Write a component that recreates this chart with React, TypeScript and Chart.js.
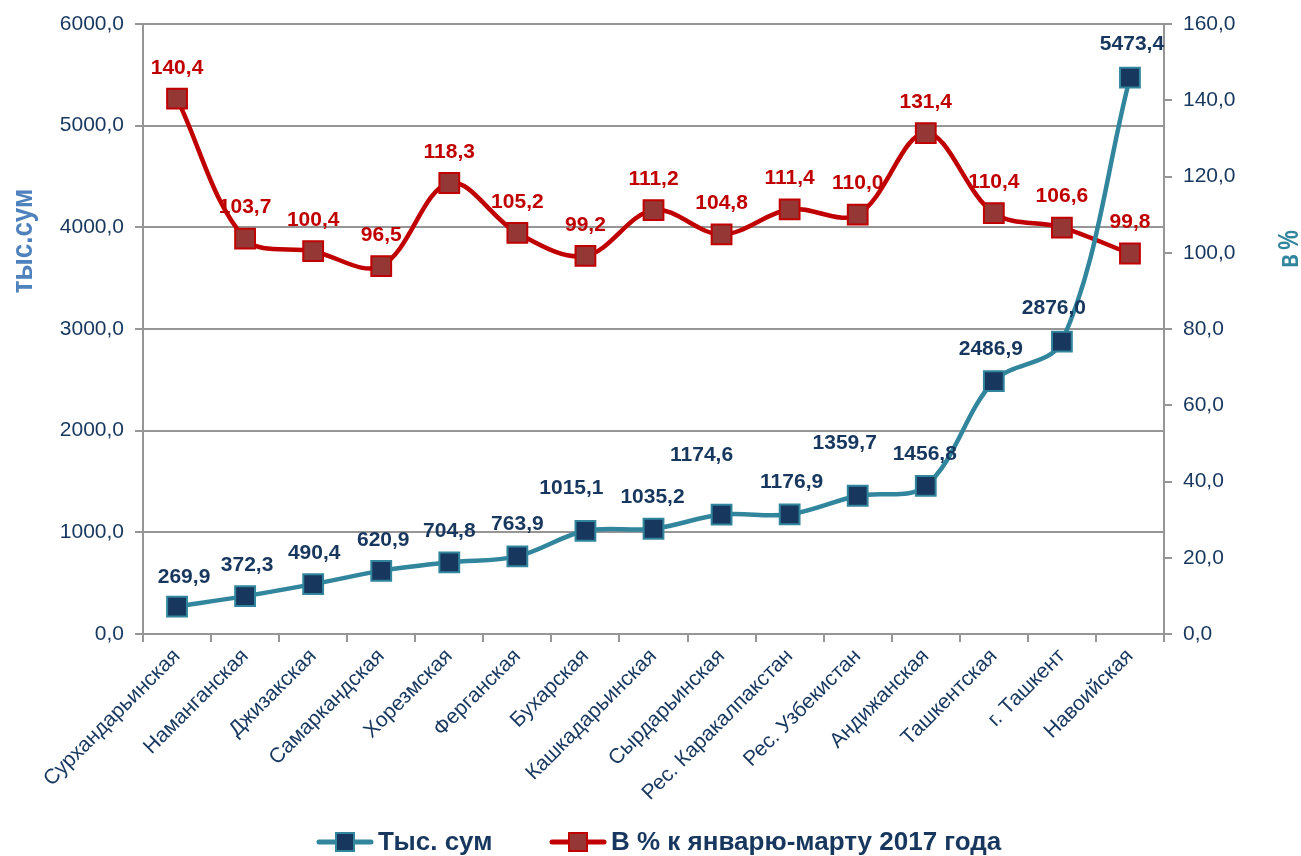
import React, { useEffect, useRef } from "react";
import { Chart, registerables } from "chart.js";

Chart.register(...registerables);

const categories = [
  "Сурхандарьинская",
  "Наманганская",
  "Джизакская",
  "Самаркандская",
  "Хорезмская",
  "Ферганская",
  "Бухарская",
  "Кашкадарьинская",
  "Сырдарьинская",
  "Рес. Каракалпакстан",
  "Рес. Узбекистан",
  "Андижанская",
  "Ташкентская",
  "г. Ташкент",
  "Навоийская",
];

const thsValues = [269.9, 372.3, 490.4, 620.9, 704.8, 763.9, 1015.1, 1035.2, 1174.6, 1176.9, 1359.7, 1456.8, 2486.9, 2876.0, 5473.4];
const pctValues = [140.4, 103.7, 100.4, 96.5, 118.3, 105.2, 99.2, 111.2, 104.8, 111.4, 110.0, 131.4, 110.4, 106.6, 99.8];

const leftTicks = [0, 1000, 2000, 3000, 4000, 5000, 6000];
const rightTicks = [0, 20, 40, 60, 80, 100, 120, 140, 160];

// label offsets (style only)
const thsLabelDx = [7, 2, 1, 2, 0, 0, -14, -1, -20, 2, -13, -1, -3, -8, 2];
const thsLabelDy = [-29, -31, -31, -31, -31, -32, -43, -32, -59, -32, -53, -32, -32, -33, -33];

const seriesNames = ["Тыс. сум", "В % к январю-марту 2017 года"];

const NAVY = "#17375E";
const TEAL = "#31859C";
const RED = "#C00000";
const RED_FILL = "#953735";
const GRID = "#969696";
const FONT = "'Liberation Sans', Arial, sans-serif";

const fmt = (v: number) => v.toFixed(1).replace(".", ",");

const overlayPlugin = {
  id: "overlay",
  afterDatasetsDraw(chart: any) {
    const ctx = chart.ctx;
    ctx.save();
    // data labels
    ctx.font = `bold 21px ${FONT}`;
    ctx.textAlign = "center";
    ctx.textBaseline = "middle";
    const m0 = chart.getDatasetMeta(0);
    m0.data.forEach((p: any, i: number) => {
      ctx.fillStyle = NAVY;
      ctx.fillText(fmt(thsValues[i]), p.x + thsLabelDx[i], p.y + thsLabelDy[i]);
    });
    const m1 = chart.getDatasetMeta(1);
    m1.data.forEach((p: any, i: number) => {
      ctx.fillStyle = RED;
      ctx.fillText(fmt(pctValues[i]), p.x, p.y - 31);
    });

    // axis titles
    ctx.save();
    ctx.translate(24, 241);
    ctx.rotate(-Math.PI / 2);
    ctx.scale(1, 1.1);
    ctx.fillStyle = "#4F81BD";
    ctx.font = `bold 26px ${FONT}`;
    ctx.textAlign = "center";
    ctx.textBaseline = "middle";
    ctx.fillText("тыс.сум", 0, 0);
    ctx.restore();

    ctx.save();
    ctx.translate(1290, 249);
    ctx.rotate(-Math.PI / 2);
    ctx.scale(1, 1.3);
    ctx.fillStyle = TEAL;
    ctx.font = `bold 22px ${FONT}`;
    ctx.textAlign = "center";
    ctx.textBaseline = "middle";
    ctx.fillText("в\u2009%", 0, 0);
    ctx.restore();

    // legend
    const ly = 842;
    const drawItem = (x0: number, lineColor: string, fill: string, border: string, text: string) => {
      ctx.strokeStyle = lineColor;
      ctx.lineWidth = 5;
      ctx.lineCap = "round";
      ctx.beginPath();
      ctx.moveTo(x0, ly);
      ctx.lineTo(x0 + 52, ly);
      ctx.stroke();
      ctx.fillStyle = fill;
      ctx.fillRect(x0 + 17, ly - 9, 18, 18);
      ctx.strokeStyle = border;
      ctx.lineWidth = 2;
      ctx.strokeRect(x0 + 17, ly - 9, 18, 18);
      ctx.fillStyle = NAVY;
      ctx.font = `bold 26px ${FONT}`;
      ctx.textAlign = "left";
      ctx.textBaseline = "middle";
      ctx.fillText(text, x0 + 59, ly + 1);
    };
    drawItem(319, TEAL, NAVY, TEAL, seriesNames[0]);
    drawItem(552, RED, RED_FILL, RED, seriesNames[1]);
    ctx.restore();
  },
};

export default function App() {
  const ref = useRef<HTMLCanvasElement>(null);
  useEffect(() => {
    document.body.style.margin = "0";
    const chart = new Chart(ref.current as HTMLCanvasElement, {
      type: "line",
      data: {
        labels: categories,
        datasets: [
          {
            label: seriesNames[0],
            data: thsValues,
            yAxisID: "y",
            borderColor: TEAL,
            borderWidth: 4.5,
            pointStyle: "rect",
            pointRadius: 14,
            pointBackgroundColor: NAVY,
            pointBorderColor: TEAL,
            pointBorderWidth: 2,
            tension: 0.35,
          },
          {
            label: seriesNames[1],
            data: pctValues,
            yAxisID: "y1",
            borderColor: RED,
            borderWidth: 4.5,
            pointStyle: "rect",
            pointRadius: 14,
            pointBackgroundColor: RED_FILL,
            pointBorderColor: RED,
            pointBorderWidth: 2,
            tension: 0.35,
          },
        ],
      },
      options: {
        responsive: false,
        animation: false,
        layout: { padding: { top: 24, left: 0, right: 0, bottom: 0 } },
        plugins: { legend: { display: false }, tooltip: { enabled: false } },
        scales: {
          x: {
            offset: true,
            grid: { drawOnChartArea: false, color: GRID, lineWidth: 2, tickLength: 8, offset: true },
            border: { color: GRID, width: 2 },
            ticks: {
              color: NAVY,
              font: { family: FONT, size: 21 },
              maxRotation: 45,
              minRotation: 45,
              padding: 2,
              autoSkip: false,
            },
            afterFit: (s: any) => {
              s.height = 222;
            },
          },
          y: {
            position: "left",
            min: 0,
            max: 6000,
            afterBuildTicks: (s: any) => {
              s.ticks = leftTicks.map((v) => ({ value: v }));
            },
            grid: { color: GRID, lineWidth: 2, tickLength: 8 },
            border: { color: GRID, width: 2 },
            ticks: {
              color: NAVY,
              font: { family: FONT, size: 21 },
              padding: 11,
              callback: (v: any) => fmt(Number(v)),
            },
            afterFit: (s: any) => {
              s.width = 143;
            },
          },
          y1: {
            position: "right",
            min: 0,
            max: 160,
            afterBuildTicks: (s: any) => {
              s.ticks = rightTicks.map((v) => ({ value: v }));
            },
            grid: { drawOnChartArea: false, color: GRID, lineWidth: 2, tickLength: 8 },
            border: { color: GRID, width: 2 },
            ticks: {
              color: NAVY,
              font: { family: FONT, size: 21 },
              padding: 11,
              callback: (v: any) => fmt(Number(v)),
            },
            afterFit: (s: any) => {
              s.width = 137;
            },
          },
        },
      },
      plugins: [overlayPlugin],
    } as any);
    return () => chart.destroy();
  }, []);
  return <canvas ref={ref} width={1301} height={856} style={{ display: "block" }} />;
}
